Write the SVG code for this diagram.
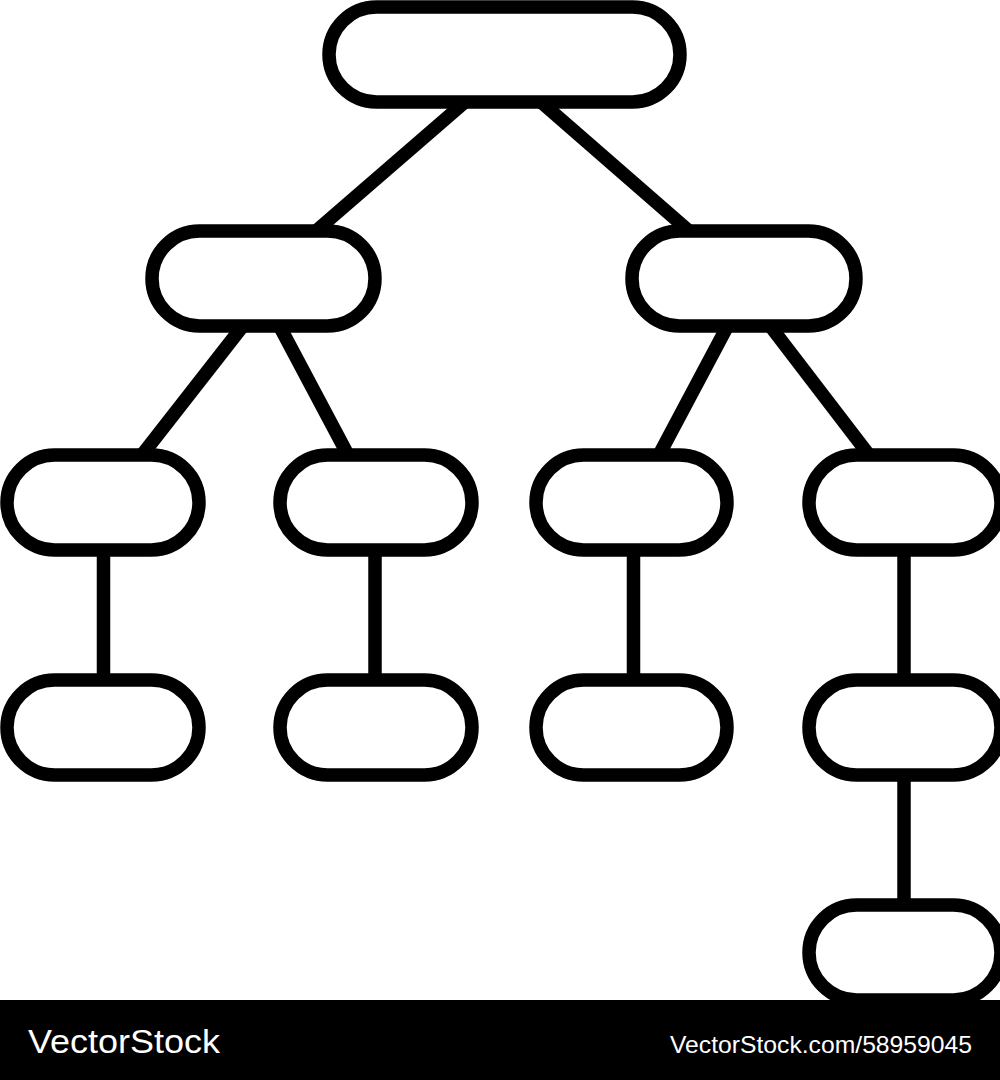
<svg xmlns="http://www.w3.org/2000/svg" width="1000" height="1080" viewBox="0 0 1000 1080">
<style>
.node{fill:#fff;stroke:#000;stroke-width:13.5}
.edge{stroke:#000;stroke-width:13.5;fill:none}
.wm{fill:#fff;font-family:"Liberation Sans",Arial,sans-serif}
</style>
<rect x="0" y="0" width="1000" height="1080" fill="#fff"/>
<g id="connectors">
<line class="edge" x1="465" y1="102" x2="316" y2="231"/>
<line class="edge" x1="541" y1="102" x2="689" y2="231"/>
<line class="edge" x1="242" y1="327" x2="142" y2="455"/>
<line class="edge" x1="280" y1="327" x2="348" y2="455"/>
<line class="edge" x1="727" y1="327" x2="659" y2="455"/>
<line class="edge" x1="771" y1="327" x2="869" y2="455"/>
<line class="edge" x1="103.5" y1="550" x2="103.5" y2="680"/>
<line class="edge" x1="375" y1="550" x2="375" y2="680"/>
<line class="edge" x1="633.5" y1="550" x2="633.5" y2="680"/>
<line class="edge" x1="904" y1="550" x2="904" y2="680"/>
<line class="edge" x1="904" y1="775" x2="904" y2="905"/>
</g>
<g id="root"><rect class="node" x="329" y="7" width="351" height="95" rx="47.5"/></g>
<g id="l2a"><rect class="node" x="152" y="231" width="223" height="95" rx="47.5"/></g>
<g id="l2b"><rect class="node" x="632" y="231" width="224" height="95" rx="47.5"/></g>
<g id="l3a"><rect class="node" x="7" y="455" width="192" height="95" rx="47.5"/></g>
<g id="l3b"><rect class="node" x="280" y="455" width="192" height="95" rx="47.5"/></g>
<g id="l3c"><rect class="node" x="536" y="455" width="191" height="95" rx="47.5"/></g>
<g id="l3d"><rect class="node" x="809" y="455" width="192" height="95" rx="47.5"/></g>
<g id="l4a"><rect class="node" x="7" y="680" width="192" height="95" rx="47.5"/></g>
<g id="l4b"><rect class="node" x="280" y="680" width="192" height="95" rx="47.5"/></g>
<g id="l4c"><rect class="node" x="536" y="680" width="191" height="95" rx="47.5"/></g>
<g id="l4d"><rect class="node" x="809" y="680" width="192" height="95" rx="47.5"/></g>
<g id="l5d"><rect class="node" x="809" y="905" width="192" height="95" rx="47.5"/></g>
<g id="banner">
<rect x="0" y="1000" width="1000" height="80" fill="#000"/>
<text class="wm" x="28" y="1053" font-size="34" textLength="192" lengthAdjust="spacingAndGlyphs">VectorStock</text>
<text class="wm" x="670" y="1053" font-size="24" textLength="302" lengthAdjust="spacingAndGlyphs">VectorStock.com/58959045</text>
</g>
</svg>
